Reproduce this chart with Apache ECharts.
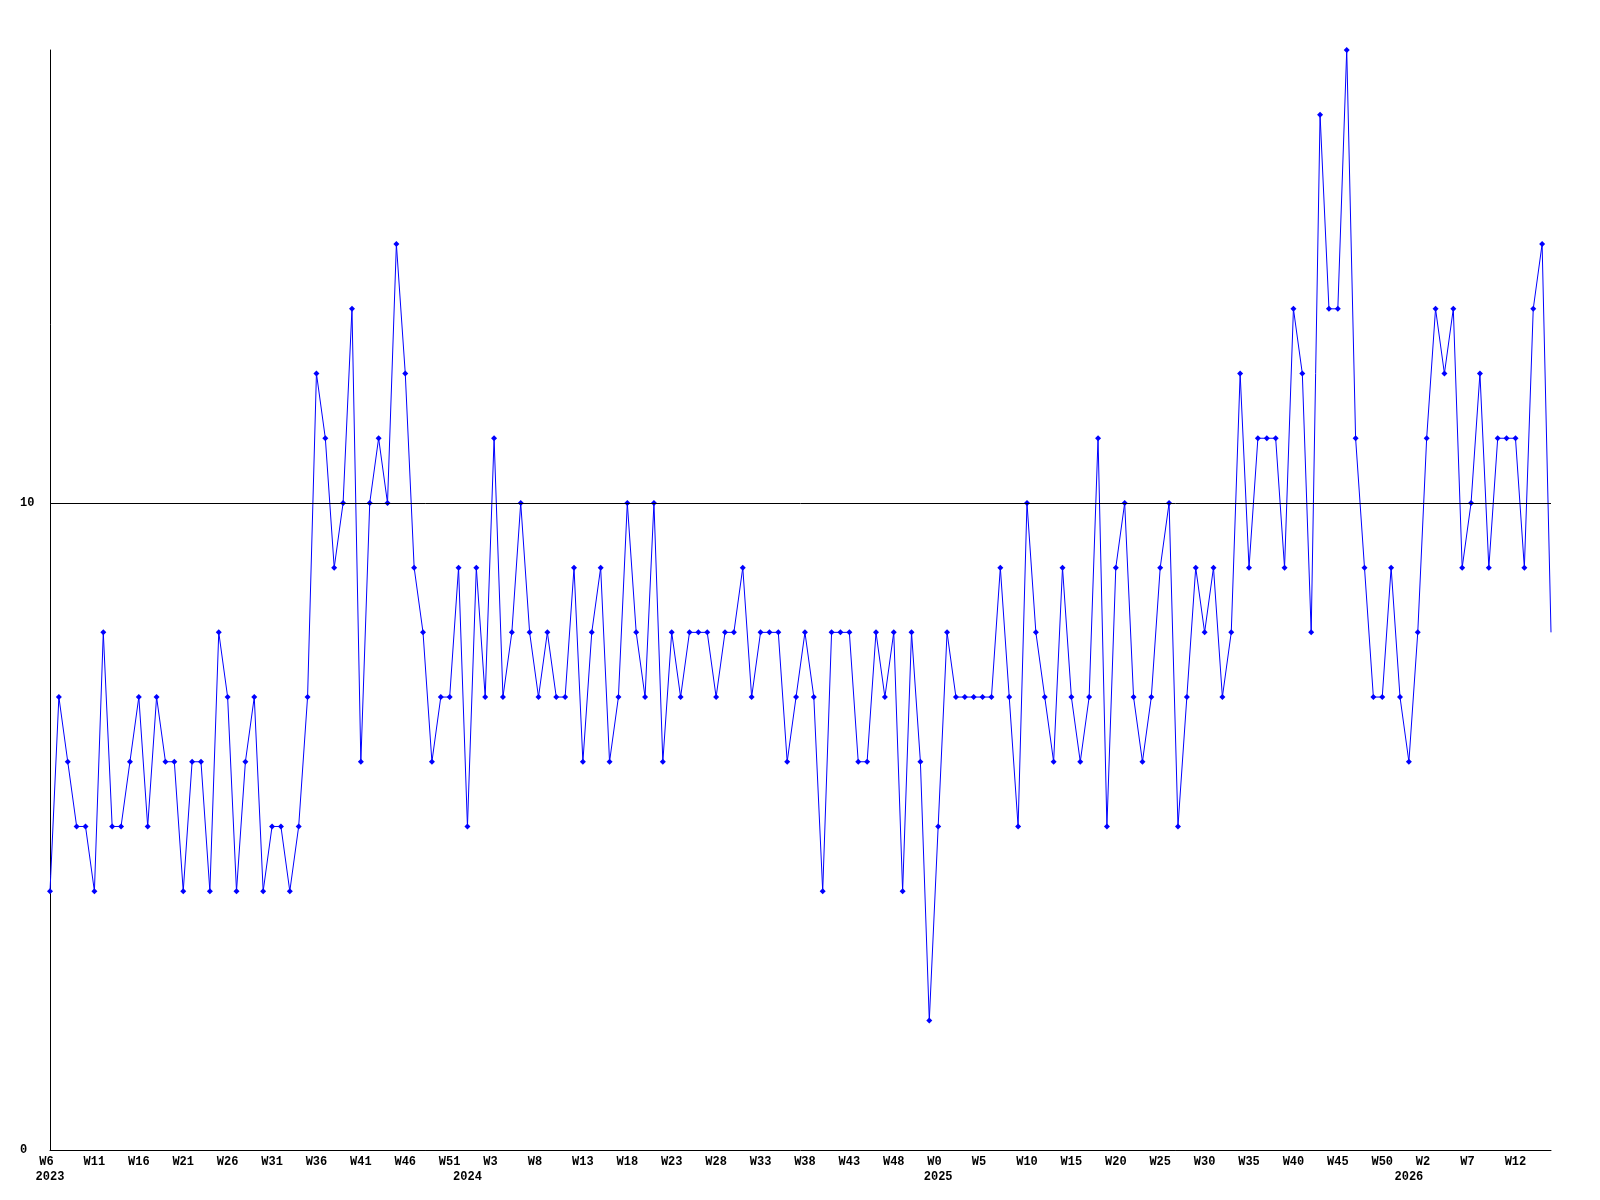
<!DOCTYPE html>
<html>
<head>
<meta charset="utf-8">
<script src="https://cdn.jsdelivr.net/npm/echarts@6/dist/echarts.min.js"></script>
<style>
html,body{margin:0;padding:0;background:#fff;}
#chart{width:1600px;height:1200px;}
</style>
</head>
<body>
<div id="chart"></div>
<script>
// Week ranges per year: [year, firstWeek, lastWeek]
const WEEK_RANGES = [[2023, 6, 52], [2024, 0, 52], [2025, 0, 52], [2026, 0, 16]];

// Weekly values, one per week in the ranges above
const VALUES_2023 = [4,7,6,5,5,4,8,5,5,6,7,5,7,6,6,4,6,6,4,8,7,4,6,7,4,5,5,4,5,
  7,12,11,9,10,13,6,10,11,10,14,12,9,8,6,7,7,9];
const VALUES_2024 = [5,9,7,11,7,8,10,8,7,8,
  7,7,9,6,8,9,6,7,10,8,7,10,6,8,7,8,8,8,7,8,8,9,7,8,8,8,6,7,
  8,7,4,8,8,8,6,6,8,7,8,4,8,6,2];
const VALUES_2025 = [5,8,7,7,7,7,7,9,7,5,10,8,7,
  6,9,7,6,7,11,5,9,10,7,6,7,9,10,5,7,9,8,9,7,8,12,9,11,11,11,9,13,
  12,8,16,13,13,17,11,9,7,7,9,7];
const VALUES_2026 = [6,8,11,13,12,13,9,10,12,9,11,11,11,9,13,14,8];

const Y_MIN = 0, Y_MAX = 17, Y_REF = 10;
const Y_LABELS = [0, 10];

const categories = [];
WEEK_RANGES.forEach(([y, a, b]) => { for (let w = a; w <= b; w++) categories.push(y + '-W' + w); });
const values = [].concat(VALUES_2023, VALUES_2024, VALUES_2025, VALUES_2026);
// the last (current, partial) point is drawn without a marker
const seriesData = values.map((v, i) => i === values.length - 1 ? {value: v, symbol: 'none'} : v);

const FONT = {fontFamily: 'Liberation Mono', fontWeight: 'bold', fontSize: 12, color: '#000'};

const chart = echarts.init(document.getElementById('chart'), null, {renderer: 'canvas'});
chart.setOption({
  animation: false,
  backgroundColor: '#fff',
  grid: {left: 50, right: 49, top: 50, bottom: 50, containLabel: false},
  xAxis: [{
    type: 'category', data: categories, boundaryGap: false, position: 'bottom',
    axisLine: {show: true, lineStyle: {color: '#000', width: 1}},
    axisTick: {show: false},
    splitLine: {show: false},
    axisLabel: Object.assign({}, FONT, {
      interval: 4, margin: 6,
      formatter: v => v.split('-')[1].padEnd(3, ' ')
    })
  }, {
    type: 'category', data: categories, boundaryGap: false, position: 'bottom', offset: 15,
    axisLine: {show: false}, axisTick: {show: false}, splitLine: {show: false},
    axisLabel: Object.assign({}, FONT, {
      margin: 6,
      interval: (i, v) => i === 0 || v.endsWith('-W0'),
      formatter: v => v.split('-')[0]
    })
  }],
  yAxis: {
    type: 'value', min: Y_MIN, max: Y_MAX,
    axisLine: {show: true, lineStyle: {color: '#000', width: 1}},
    axisTick: {show: false},
    splitLine: {show: false},
    axisLabel: Object.assign({}, FONT, {
      customValues: Y_LABELS, align: 'left', margin: 30, verticalAlign: 'middle'
    })
  },
  series: [{
    type: 'line', xAxisIndex: 0, data: seriesData,
    symbol: 'diamond', symbolSize: 6, showAllSymbol: true,
    lineStyle: {color: '#0000ff', width: 1},
    itemStyle: {color: '#0000ff'},
    markLine: {
      silent: true, symbol: ['none', 'none'], animation: false,
      label: {show: false},
      lineStyle: {color: '#000', width: 1, type: 'solid'},
      data: [{yAxis: Y_REF}]
    }
  }]
});
</script>
</body>
</html>
